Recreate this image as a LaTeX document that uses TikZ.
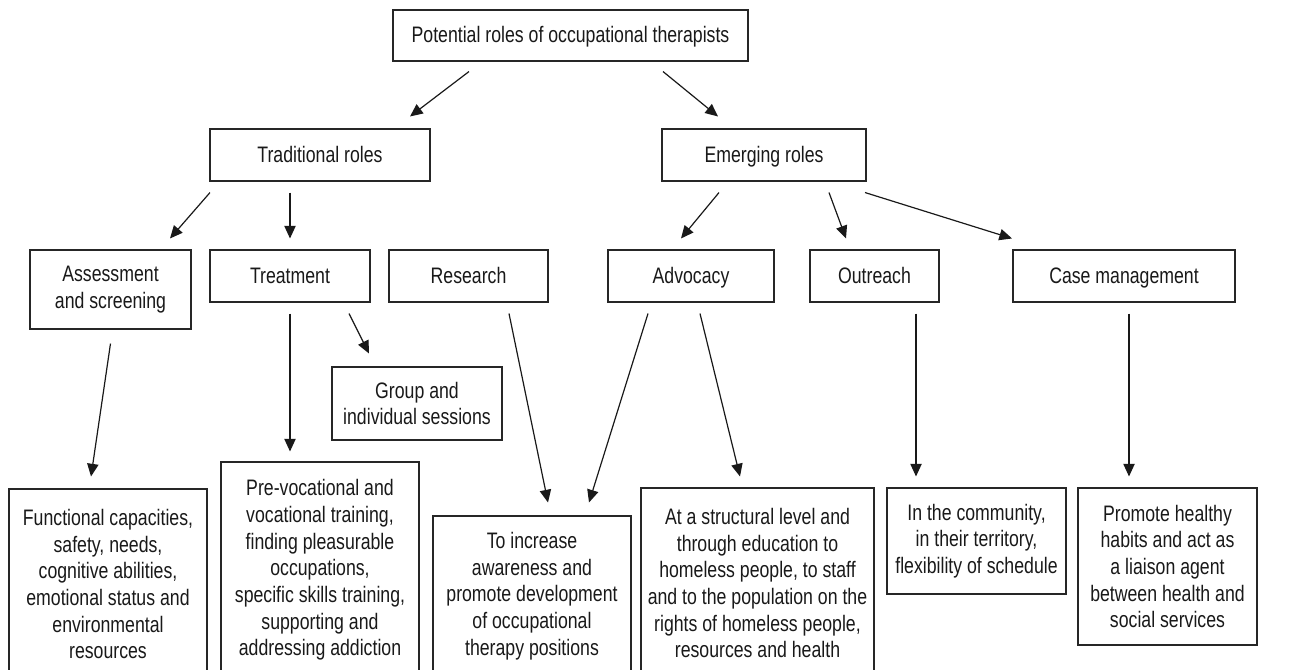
\documentclass[tikz,border=0pt]{standalone}
\usepackage{fontspec}
\setmainfont{Liberation Sans}[FakeStretch=0.79]
\usetikzlibrary{arrows.meta,calc}
\begin{document}
\begin{tikzpicture}[x=0.75pt,y=-0.75pt,
 box/.style={draw=black!85,line width=0.8pt,inner sep=0pt,align=center,font=\fontsize{16.8}{20}\selectfont,text=black!90},
 one/.style={text height=12pt,text depth=1pt},
 sz/.style 2 args={minimum width=#1*0.75pt,minimum height=#2*0.75pt},
 arr/.style={draw=black!90,line width=0.9pt,-{Triangle[length=9.5pt,width=8.5pt]}}]
\useasboundingbox (0,0) rectangle (1313,669);
\clip (0,0) rectangle (1313,669);
% level 1
\node[box,one,sz={355}{51}] (top) at (570.5,35.5) {Potential roles of occupational therapists};
% level 2
\node[box,one,sz={220}{52}] (trad) at (320,155) {Traditional roles};
\node[box,one,sz={204}{52}] (emerg) at (764,155) {Emerging roles};
% level 3
\node[box,sz={161}{79}] (assess) at (110.5,289.5) {Assessment\\and screening};
\node[box,one,sz={160}{52}] (treat) at (290,276) {Treatment};
\node[box,one,sz={159}{52}] (research) at (468.5,276) {Research};
\node[box,one,sz={166}{52}] (adv) at (691,276) {Advocacy};
\node[box,one,sz={129}{52}] (outreach) at (874.5,276) {Outreach};
\node[box,one,sz={222}{52}] (case) at (1124,276) {Case management};
\node[box,sz={170}{73}] (group) at (417,403.5) {Group and\\individual sessions};
% level 4
\node[box,sz={198}{190}] (func) at (108,584) {Functional capacities,\\safety, needs,\\cognitive abilities,\\emotional status and\\environmental\\resources};
\node[box,sz={198}{216}] (prevoc) at (320,570) {Pre-vocational and\\vocational training,\\finding pleasurable\\occupations,\\specific skills training,\\supporting and\\addressing addiction};
\node[box,sz={198}{160}] (incr) at (532,596) {To increase\\awareness and\\promote development\\of occupational\\therapy positions};
\node[box,sz={233}{190}] (struct) at (757.5,583) {At a structural level and\\through education to\\homeless people, to staff\\and to the population on the\\rights of homeless people,\\resources and health};
\node[box,sz={179}{106}] (comm) at (976.5,541) {In the community,\\in their territory,\\flexibility of schedule};
\node[box,sz={179}{157}] (promote) at (1167.5,566.5) {Promote healthy\\habits and act as\\a liaison agent\\between health and\\social services};
% arrows
\draw[arr] ($(top.south)+(-101.5,10)$) -- ($(trad.north)+(90,-12)$);
\draw[arr] ($(top.south)+(92.5,10)$) -- ($(emerg.north)+(-46,-12)$);
\draw[arr] ($(trad.south)+(-110,11)$) -- ($(assess.north)+(59.5,-11)$);
\draw[arr] ($(trad.south)+(-30,11)$) -- ($(treat.north)+(0,-11)$);
\draw[arr] ($(emerg.south)+(-45,11)$) -- ($(adv.north)+(-10,-11)$);
\draw[arr] ($(emerg.south)+(65,11)$) -- ($(outreach.north)+(-28.5,-11)$);
\draw[arr] ($(emerg.south)+(101,11)$) -- ($(case.north)+(-112,-11)$);
\draw[arr] ($(assess.south)+(0,14)$) -- ($(func.north)+(-17,-12)$);
\draw[arr] ($(treat.south)+(0,11)$) -- ($(prevoc.north)+(-30,-10)$);
\draw[arr] ($(treat.south)+(59,11)$) -- ($(group.north)+(-48,-13)$);
\draw[arr] ($(research.south)+(40.5,11)$) -- ($(incr.north)+(16,-13)$);
\draw[arr] ($(adv.south)+(-43,11)$) -- ($(incr.north)+(57,-13)$);
\draw[arr] ($(adv.south)+(9,11)$) -- ($(struct.north)+(-17.5,-11)$);
\draw[arr] ($(outreach.south)+(41.5,11)$) -- ($(comm.north)+(-60.5,-11)$);
\draw[arr] ($(case.south)+(5,11)$) -- ($(promote.north)+(-38.5,-11)$);
\end{tikzpicture}
\end{document}
